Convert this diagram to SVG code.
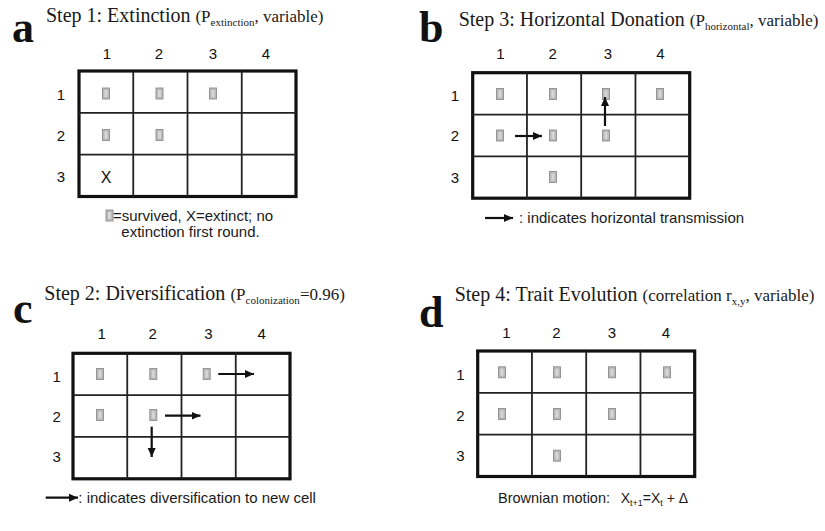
<svg xmlns="http://www.w3.org/2000/svg" xmlns:xlink="http://www.w3.org/1999/xlink" width="825" height="531" viewBox="0 0 825 531">
<style>
.bg{fill:#ffffff}
.letter{font-family:"Liberation Serif",serif;font-weight:bold;font-size:44px;fill:#111}
.title{font-family:"Liberation Serif",serif;font-size:20px;fill:#1a1a1a}
.par{font-size:17px}
.sub{font-size:11px}
.lab{font-family:"Liberation Sans",Arial,sans-serif;font-size:15px;fill:#111;text-anchor:middle}
.leg{font-family:"Liberation Sans",Arial,sans-serif;font-size:15px;fill:#1a1a1a;white-space:pre}
.outer{fill:none;stroke:#111;stroke-width:3.2}
.inner{fill:none;stroke:#222;stroke-width:1.8}
.arrow{fill:none;stroke:#111;stroke-width:2.2;marker-end:url(#ah)}
.ico{fill:#b9b9b9;stroke:#8e8e8e;stroke-width:0.9}
.icoin{fill:#d6d6d6}
</style>
<defs>
<marker id="ah" markerUnits="userSpaceOnUse" markerWidth="10" markerHeight="10" viewBox="0 0 10 10" refX="9" refY="5" orient="auto">
<path d="M0,1 L9,5 L0,9 Z" fill="#111"/>
</marker>
<g id="icon">
<rect class="ico" x="-3.5" y="-5.5" width="7" height="11"/>
<rect class="icoin" x="-1.5" y="-3.5" width="3" height="7"/>
</g>
<g id="grid">
<rect class="outer" x="0" y="0" width="217" height="125.5"/>
<line class="inner" x1="54.25" y1="0" x2="54.25" y2="125.5"/>
<line class="inner" x1="108.5" y1="0" x2="108.5" y2="125.5"/>
<line class="inner" x1="162.75" y1="0" x2="162.75" y2="125.5"/>
<line class="inner" x1="0" y1="41.83" x2="217" y2="41.83"/>
<line class="inner" x1="0" y1="83.67" x2="217" y2="83.67"/>
</g>
</defs>
<rect class="bg" x="0" y="0" width="825" height="531"/>

<!-- Panel a -->
<g id="panel-a">
<text class="letter" x="12" y="42">a</text>
<text class="title" x="46" y="22">Step 1: Extinction <tspan class="par">(P</tspan><tspan class="sub" dy="4">extinction</tspan><tspan class="par" dy="-4">, variable)</tspan></text>
<g class="lab">
<text x="107" y="58.5">1</text><text x="159" y="58.5">2</text><text x="213" y="58.5">3</text><text x="266" y="58.5">4</text>
<text x="61" y="99.5">1</text><text x="61" y="140.5">2</text><text x="61" y="181.5">3</text>
</g>
<use xlink:href="#grid" transform="translate(79,71)"/>
<use xlink:href="#icon" x="106" y="93.5"/>
<use xlink:href="#icon" x="159.5" y="93.5"/>
<use xlink:href="#icon" x="213" y="93.5"/>
<use xlink:href="#icon" x="106" y="135"/>
<use xlink:href="#icon" x="159.5" y="135"/>
<text class="lab" x="106" y="182.5" style="font-size:16px">X</text>
<use xlink:href="#icon" x="109.5" y="215.5"/>
<text class="leg" x="113" y="220.5">=survived, X=extinct; no</text>
<text class="leg" x="190.5" y="237" text-anchor="middle">extinction first round.</text>
</g>

<!-- Panel b -->
<g id="panel-b">
<text class="letter" x="419" y="42">b</text>
<text class="title" x="458.7" y="26">Step 3: Horizontal Donation <tspan class="par">(P</tspan><tspan class="sub" dy="4">horizontal</tspan><tspan class="par" dy="-4">, variable)</tspan></text>
<g class="lab">
<text x="500.3" y="58.5">1</text><text x="552.7" y="58.5">2</text><text x="608" y="58.5">3</text><text x="660.3" y="58.5">4</text>
<text x="455" y="100.5">1</text><text x="455" y="140.5">2</text><text x="455" y="182.5">3</text>
</g>
<use xlink:href="#grid" transform="translate(472.7,72.7)"/>
<use xlink:href="#icon" x="500" y="94"/>
<use xlink:href="#icon" x="553" y="94"/>
<use xlink:href="#icon" x="606" y="94"/>
<use xlink:href="#icon" x="660" y="94"/>
<use xlink:href="#icon" x="500" y="135.5"/>
<use xlink:href="#icon" x="553" y="135.5"/>
<use xlink:href="#icon" x="606" y="135.5"/>
<use xlink:href="#icon" x="553" y="177"/>
<text class="leg" x="519" y="223">: indicates horizontal transmission</text>
</g>

<!-- Panel c -->
<g id="panel-c">
<text class="letter" x="13" y="323">c</text>
<text class="title" x="44.3" y="300">Step 2: Diversification <tspan class="par">(P</tspan><tspan class="sub" dy="4">colonization</tspan><tspan class="par" dy="-4">=0.96)</tspan></text>
<g class="lab">
<text x="101.7" y="338.5">1</text><text x="152.7" y="338.5">2</text><text x="208.3" y="338.5">3</text><text x="261.7" y="338.5">4</text>
<text x="56.7" y="381.5">1</text><text x="56.7" y="422">2</text><text x="56.7" y="461.5">3</text>
</g>
<use xlink:href="#grid" transform="translate(73,353.3)"/>
<use xlink:href="#icon" x="100" y="374"/>
<use xlink:href="#icon" x="153.3" y="374"/>
<use xlink:href="#icon" x="206.7" y="374"/>
<use xlink:href="#icon" x="100" y="415"/>
<use xlink:href="#icon" x="153.3" y="415"/>
<text class="leg" x="78.3" y="503">: indicates diversification to new cell</text>
</g>

<!-- Panel d -->
<g id="panel-d">
<text class="letter" x="419" y="327">d</text>
<text class="title" x="454.7" y="300.7">Step 4: Trait Evolution <tspan class="par">(correlation r</tspan><tspan class="sub" dy="4">x,y</tspan><tspan class="par" dy="-4">, variable)</tspan></text>
<g class="lab">
<text x="506.3" y="337.5">1</text><text x="556.3" y="337.5">2</text><text x="612" y="337.5">3</text><text x="666" y="337.5">4</text>
<text x="460.3" y="379.5">1</text><text x="460.3" y="421">2</text><text x="460.3" y="461">3</text>
</g>
<use xlink:href="#grid" transform="translate(477.7,351)"/>
<use xlink:href="#icon" x="502" y="372.3"/>
<use xlink:href="#icon" x="557" y="372.3"/>
<use xlink:href="#icon" x="612" y="372.3"/>
<use xlink:href="#icon" x="667" y="372.3"/>
<use xlink:href="#icon" x="502" y="414"/>
<use xlink:href="#icon" x="557" y="414"/>
<use xlink:href="#icon" x="612" y="414"/>
<use xlink:href="#icon" x="557" y="455.7"/>
<text class="leg" x="498" y="503" style="font-size:14.5px">Brownian motion:</text>
<text class="leg" x="620.7" y="503" style="font-size:14px">X<tspan style="font-size:9px" dy="3">t+1</tspan><tspan dy="-3">=X</tspan><tspan style="font-size:9px" dy="3">t</tspan><tspan dy="-3"> + Δ</tspan></text>
</g>

<!-- Connectors -->
<g id="connectors">
<line class="arrow" x1="515" y1="136" x2="542" y2="136"/>
<line class="arrow" x1="605" y1="126" x2="605" y2="97"/>
<line class="arrow" x1="485" y1="218" x2="513" y2="218"/>
<line class="arrow" x1="218.3" y1="374" x2="254" y2="374"/>
<line class="arrow" x1="165" y1="415.7" x2="200.5" y2="415.7"/>
<line class="arrow" x1="151.7" y1="426.7" x2="151.7" y2="457"/>
<line class="arrow" x1="45.7" y1="497.7" x2="78" y2="497.7"/>
</g>
</svg>
